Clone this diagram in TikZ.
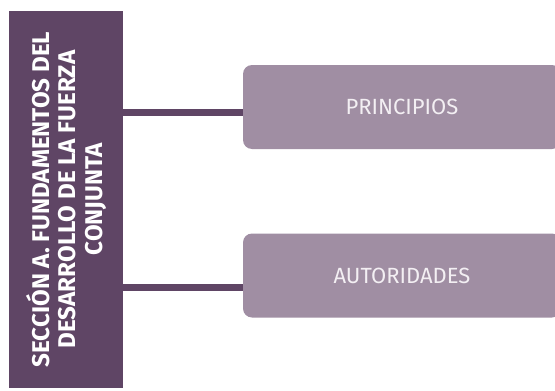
\documentclass[tikz,border=0pt]{standalone}
\usepackage{fontspec}
\setmainfont{Fira Sans}
\usepackage{tikz}
\usetikzlibrary{positioning,calc}
\definecolor{ciruela}{HTML}{5F4565}
\definecolor{malva}{HTML}{A08EA3}
\definecolor{tenue}{HTML}{F3EFF3}

\tikzset{
  seccion/.style={fill=ciruela,text=white,rotate=90,minimum width=377,minimum height=114,
    inner sep=0pt,align=center,font=\fontsize{24.2}{26.5}\selectfont\bfseries},
  tema/.style={fill=malva,text=tenue,rounded corners=9,minimum width=318,minimum height=84,
    inner sep=0pt,font=\fontsize{22}{24}\selectfont},
  enlace/.style={draw=ciruela,line width=7}
}

\begin{document}
\begin{tikzpicture}[x=1pt,y=-1pt]
  \useasboundingbox (0,0) rectangle (555,391);
  \clip (0,0) rectangle (555,391);
  \node[seccion] (sec) at (66,199.5) {SECCIÓN A. FUNDAMENTOS DEL\\DESARROLLO DE LA FUERZA\\CONJUNTA};
  \foreach \t/\y/\ly [count=\k] in {PRINCIPIOS/107/112,AUTORIDADES/275.5/287} {
    \node[tema] (t\k) at (402,\y) {\t};
    \draw[enlace] (sec.south |- 0,\ly) -- (t\k.west |- 0,\ly);
  }
\end{tikzpicture}
\end{document}
